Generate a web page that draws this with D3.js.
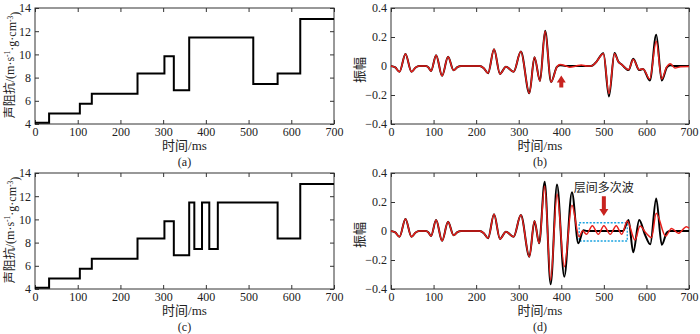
<!DOCTYPE html>
<html>
<head>
<meta charset="utf-8">
<script src="https://cdn.jsdelivr.net/npm/d3@7"></script>
<style>
  body { margin: 0; background: #fff; }
  text { font-family: "Liberation Serif", "Noto Sans CJK SC", serif; fill: #222; }
  .cjk { font-family: "Noto Sans CJK SC", sans-serif; }
</style>
</head>
<body>
<svg id="fig" width="700" height="334"></svg>
<script>
// impedance models: value holds from each time until the next one
var stepTimesA  = [0, 33, 105, 133, 240, 303, 325, 361, 511, 568, 621, 700];
var stepValuesA = [4.1, 4.9, 5.75, 6.6, 8.35, 9.85, 6.9, 11.45, 7.45, 8.35, 13.05, 13.05];
var stepTimesC  = [0, 33, 105, 133, 240, 303, 325, 361, 373, 391, 408, 428, 568, 621, 700];
var stepValuesC = [4.1, 4.9, 5.75, 6.6, 8.35, 9.85, 6.9, 11.45, 7.45, 11.45, 7.45, 11.45, 8.35, 13.05, 13.05];

// seismic traces, [ms, amplitude]
var traceHead = [[0,0],[10,-0.01],[20,-0.04],[34,0.083],[48,-0.04],[58,-0.01],[66,0],[82,0],[88,-0.01],
  [94,-0.035],[106,0.075],[120,-0.068],[134,0.063],[147,-0.03],[156,-0.008],[165,0],[208,0],[218,-0.015],
  [228,-0.05],[242,0.115],[256,-0.055],[270,-0.005],[288,-0.04]];

var tailB_black = [[305,0.1],[325,-0.188],[337,0.06],[350,-0.103],[362,0.243],[376,-0.11],[390,-0.005],
  [398,0.005],[410,0],[470,0],[480,0.02],[499,0.088],[512,-0.21],[525,0.09],[534,0.03],[542,0.01],
  [558,-0.028],[569,0.05],[583,-0.028],[592,-0.02],[608,-0.1],[623,0.215],[636,-0.1],[648,-0.01],
  [656,0.005],[665,0],[700,0]];
var tailB_red = [[305,0.1],[325,-0.188],[337,0.06],[350,-0.103],[362,0.24],[376,-0.11],[390,-0.005],
  [397,0.01],[410,0.002],[420,-0.008],[435,0],[447,0.007],[460,0],[470,0],[480,0.02],[499,0.085],
  [512,-0.19],[525,0.085],[534,0.03],[542,0.01],[558,-0.025],[569,0.045],[583,-0.025],[592,-0.02],
  [608,-0.09],[623,0.17],[636,-0.09],[647,-0.01],[656,0.016],[667,-0.014],[680,-0.005],[700,-0.003]];

var tailD_black = [[305,0.11],[325,-0.177],[337,0.069],[348,-0.085],[361,0.34],[375,-0.368],[390,0.32],
  [407,-0.315],[425,0.268],[440,-0.085],[452,0.005],[460,0],[545,0],[558,0.076],[569,-0.147],
  [583,0.076],[597,-0.028],[609,-0.092],[623,0.225],[636,-0.095],[648,-0.01],[655,0],[700,0]];
var tailD_red = [[305,0.11],[325,-0.177],[337,0.069],[348,-0.085],[361,0.31],[375,-0.34],[390,0.255],
  [407,-0.246],[425,0.177],[442,-0.04],[450,0.002],[459,-0.023],[473,0.037],[487,-0.023],[500,0.037],
  [515,-0.023],[529,0.037],[542,-0.023],[555,0.069],[573,-0.062],[585,0.034],[598,-0.01],[612,-0.045],
  [623,0.122],[645,-0.035],[659,0.018],[675,-0.016],[694,0.03],[700,0.02]];

// annotations: arrows [ms, tip amp, tail amp], dotted box [ms0, ms1, amp top, amp bottom]
var arrowB = [400, -0.066, -0.148];
var arrowD = [500, 0.103, 0.24];
var multipleBox = [442, 555, 0.057, -0.069];
var multipleLabel = [500, 0.3, "层间多次波"];

var xTicks = [0, 100, 200, 300, 400, 500, 600, 700];
var impTicks = [4, 6, 8, 10, 12, 14];
var ampTicks = [-0.4, -0.2, 0, 0.2, 0.4];

var svg = d3.select("#fig");
svg.append("rect").attr("width", 700).attr("height", 334).attr("fill", "#fff");

function panel(left, right, top, bottom, yDomain, yTicks, yFmt) {
  var g = svg.append("g");
  var x = d3.scaleLinear().domain([0, 700]).range([left, right]);
  var y = d3.scaleLinear().domain(yDomain).range([bottom, top]);

  g.append("g").attr("transform", `translate(0,${bottom})`)
    .call(d3.axisBottom(x).tickValues(xTicks).tickSize(-4).tickPadding(3).tickFormat(d3.format("d")));
  g.append("g").attr("transform", `translate(0,${top})`)
    .call(d3.axisTop(x).tickValues(xTicks).tickSize(-4).tickFormat(""));
  g.append("g").attr("transform", `translate(${left},0)`)
    .call(d3.axisLeft(y).tickValues(yTicks).tickSize(-4).tickPadding(4).tickFormat(yFmt));
  g.append("g").attr("transform", `translate(${right},0)`)
    .call(d3.axisRight(y).tickValues(yTicks).tickSize(-4).tickFormat(""));

  g.selectAll(".domain").remove();
  g.selectAll(".tick line").attr("stroke", "#333");
  g.selectAll(".tick text").attr("font-size", 12).attr("font-family", "Liberation Serif").attr("fill", "#222");

  g.append("rect")
    .attr("x", left).attr("y", top)
    .attr("width", right - left).attr("height", bottom - top)
    .attr("fill", "none").attr("stroke", "#333").attr("stroke-width", 1);

  return { g: g, x: x, y: y, left: left, right: right, top: top, bottom: bottom };
}

function xTitle(p, caption) {
  var cx = (p.left + p.right) / 2;
  p.g.append("text").attr("x", cx).attr("y", p.bottom + 26)
    .attr("text-anchor", "middle").attr("font-size", 13)
    .text("时间/ms");
  p.g.append("text").attr("x", cx).attr("y", p.bottom + 42)
    .attr("text-anchor", "middle").attr("font-size", 12)
    .text(caption);
}

function stepPanel(p, times, values) {
  var pts = times.map((t, i) => [t, values[i]]);
  p.g.append("path").datum(pts)
    .attr("fill", "none").attr("stroke", "#000").attr("stroke-width", 2)
    .attr("d", d3.line().x(d => p.x(d[0])).y(d => p.y(d[1])).curve(d3.curveStepAfter));

  var t = p.g.append("text")
    .attr("transform", `translate(${p.left - 25},${(p.top + p.bottom) / 2 - 1}) rotate(-90)`)
    .attr("text-anchor", "middle").attr("dy", "0.35em").attr("font-size", 12);
  t.append("tspan").attr("class", "cjk").text("声阻抗");
  t.append("tspan").text("/(m·s");
  t.append("tspan").attr("font-size", 7.5).attr("dy", "-0.5em").text("-1");
  t.append("tspan").attr("dy", "0.5em").text("·g·cm");
  t.append("tspan").attr("font-size", 7.5).attr("dy", "-0.5em").text("-3");
  t.append("tspan").attr("dy", "0.5em").text(")");
}

function tracePanel(p, black, red) {
  var line = d3.line().x(d => p.x(d[0])).y(d => p.y(d[1])).curve(d3.curveMonotoneX);
  p.g.append("path").datum(black)
    .attr("fill", "none").attr("stroke", "#000").attr("stroke-width", 2).attr("d", line);
  p.g.append("path").datum(red)
    .attr("fill", "none").attr("stroke", "#e8201c").attr("stroke-width", 1.5).attr("d", line);

  p.g.append("text").attr("class", "cjk")
    .attr("transform", `translate(${p.left - 32},${(p.top + p.bottom) / 2 + 4}) rotate(-90)`)
    .attr("text-anchor", "middle").attr("dy", "0.35em").attr("font-size", 13)
    .text("振幅");
}

function arrow(p, a) {
  var x = p.x(a[0]), tip = p.y(a[1]), tail = p.y(a[2]);
  var dir = tail > tip ? 1 : -1;
  var headLen = 7, headW = 4.5, shaftW = 2;
  var hb = tip + dir * headLen;
  var pts = [[x, tip], [x + headW, hb], [x + shaftW, hb], [x + shaftW, tail],
    [x - shaftW, tail], [x - shaftW, hb], [x - headW, hb]];
  p.g.append("path").attr("d", "M" + pts.join("L") + "Z").attr("fill", "#c8231f");
}

var fmtImp = d3.format("d");
var fmtAmp = d => d === 0 ? "0" : d3.format(".1f")(d);

var pa = panel(35, 334, 8, 124, [4, 14], impTicks, fmtImp);
stepPanel(pa, stepTimesA, stepValuesA);
xTitle(pa, "(a)");

var pb = panel(391, 689, 8, 124, [-0.4, 0.4], ampTicks, fmtAmp);
tracePanel(pb, traceHead.concat(tailB_black), traceHead.concat(tailB_red));
arrow(pb, arrowB);
xTitle(pb, "(b)");

var pc = panel(35, 334, 173, 289, [4, 14], impTicks, fmtImp);
stepPanel(pc, stepTimesC, stepValuesC);
xTitle(pc, "(c)");

var pd = panel(391, 689, 173, 289, [-0.4, 0.4], ampTicks, fmtAmp);
pd.g.append("rect")
  .attr("x", pd.x(multipleBox[0])).attr("y", pd.y(multipleBox[2]))
  .attr("width", pd.x(multipleBox[1]) - pd.x(multipleBox[0]))
  .attr("height", pd.y(multipleBox[3]) - pd.y(multipleBox[2]))
  .attr("fill", "none").attr("stroke", "#1aa3e0").attr("stroke-width", 1.3)
  .attr("stroke-dasharray", "2,1.5");
tracePanel(pd, traceHead.concat(tailD_black), traceHead.concat(tailD_red));
arrow(pd, arrowD);
pd.g.append("text").attr("class", "cjk")
  .attr("x", pd.x(multipleLabel[0])).attr("y", pd.y(multipleLabel[1]))
  .attr("text-anchor", "middle").attr("dy", "0.35em").attr("font-size", 12).attr("fill", "#333")
  .text(multipleLabel[2]);
xTitle(pd, "(d)");
</script>
</body>
</html>
